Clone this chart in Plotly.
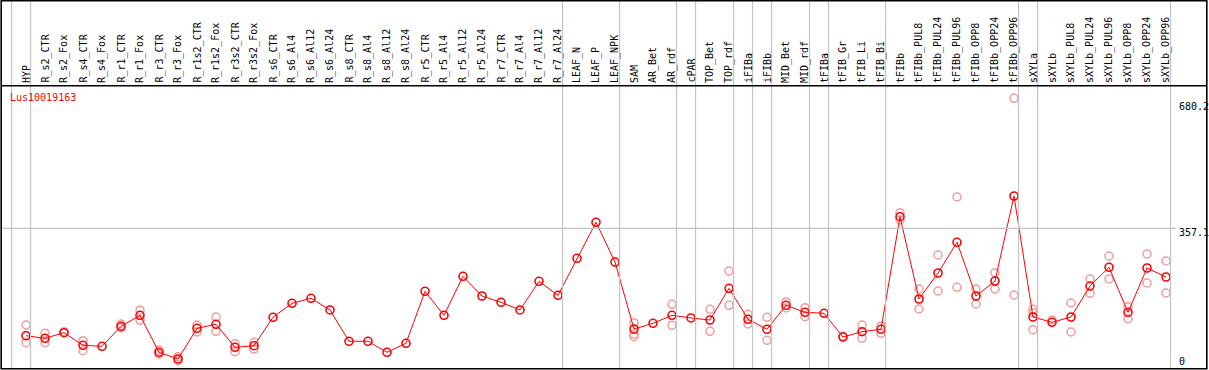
import plotly.graph_objects as go

categories = ["HYP", "R_s2_CTR", "R_s2_Fox", "R_s4_CTR", "R_s4_Fox", "R_r1_CTR", "R_r1_Fox",
              "R_r3_CTR", "R_r3_Fox", "R_r1s2_CTR", "R_r1s2_Fox", "R_r3s2_CTR", "R_r3s2_Fox",
              "R_s6_CTR", "R_s6_Al4", "R_s6_Al12", "R_s6_Al24", "R_s8_CTR", "R_s8_Al4", "R_s8_Al12",
              "R_s8_Al24", "R_r5_CTR", "R_r5_Al4", "R_r5_Al12", "R_r5_Al24", "R_r7_CTR", "R_r7_Al4",
              "R_r7_Al12", "R_r7_Al24", "LEAF_N", "LEAF_P", "LEAF_NPK", "SAM", "AR_Bet", "AR_rdf",
              "cPAR", "TOP_Bet", "TOP_rdf", "iFIBa", "iFIBb", "MID_Bet", "MID_rdf", "tFIBa",
              "tFIB_Gr", "tFIB_Li", "tFIB_Bi", "tFIBb", "tFIBb_PUL8", "tFIBb_PUL24", "tFIBb_PUL96",
              "tFIBb_OPP8", "tFIBb_OPP24", "tFIBb_OPP96", "sXYLa", "sXYLb", "sXYLb_PUL8",
              "sXYLb_PUL24", "sXYLb_PUL96", "sXYLb_OPP8", "sXYLb_OPP24", "sXYLb_OPP96"]

mean_values = [80.6, 73.9, 88.3, 55.9, 53.3, 104.8, 133.1, 37.8, 20.6, 99.6, 109.9, 50.7, 54.8,
               128.0, 164.0, 176.9, 146.8, 66.2, 66.2, 37.8, 61.0, 194.9, 133.1, 233.5, 182.8,
               166.6, 146.8, 220.6, 184.6, 279.9, 372.6, 270.3, 97.8, 112.5, 133.1, 126.2, 121.0,
               202.6, 122.8, 97.1, 158.9, 140.8, 138.3, 77.2, 90.9, 97.1, 387.0, 175.1, 242.0,
               321.1, 182.8, 221.4, 440.3, 128.7, 115.1, 128.7, 208.5, 256.7, 140.8, 254.9, 231.7]

N = None
rep_a = [108.1, 86.8, 90.9, 67.7, N, 110.7, 146.0, 43.8, 26.5, 108.1, 128.7, 60.0, 63.6,
         N, N, N, N, N, N, N, N, N, N, N, N, N, N, N, N, N, N, N,
         114.1, N, 161.4, N, 148.6, 247.2, 135.7, 128.0, 167.4, 152.7, N, 79.8, 108.1, 105.6,
         397.3, 200.8, 288.4, 437.7, 200.8, 242.8, 691.8, 148.6, 121.0, 164.8, 226.6, 285.8,
         155.3, 290.9, 272.9]
rep_b = [62.6, 62.6, N, 42.0, N, 101.2, 120.2, 33.5, 16.2, 90.1, 91.9, 39.4, 46.3,
         N, N, N, N, N, N, N, N, N, N, N, N, N, N, N, N, N, N, N,
         84.2, N, 107.4, N, 91.9, 158.9, 110.7, 68.7, 151.9, 129.5, N, N, 73.9, 86.8,
         378.5, 149.3, 195.7, 205.2, 162.2, 200.8, 185.4, 96.0, N, 90.1, 189.8, 226.6,
         123.6, 216.3, 190.5]
rep_c = [N, N, N, N, N, N, N, N, N, N, N, N, N,
         N, N, N, N, N, N, N, N, N, N, N, N, N, N, N, N, N, N, N,
         78.0, N, N, N, N, N, N, N, N, N, N, N, N, N,
         N, N, N, N, N, N, N, 139.8, N, N, N, N,
         N, N, N]

gene_label = "Lus10019163"
axis_labels = ["680.2", "357.1", "0"]
grid_value = 357.1
group_ends = [-1, 0, 28, 31, 34, 35, 37, 38, 39, 41, 42, 45, 52, 53, 60]

W, H = 1209, 370
X0PX, COLPX = 26.0, 19.0
ZEROPX, PXU = 367.0, 0.3884

def px_x(p):
    return p / W

def px_y(p):
    return 1 - p / H

xs = list(range(len(categories)))
fig = go.Figure()

rx, ry = [], []
for reps in (rep_a, rep_b, rep_c):
    for i, v in enumerate(reps):
        if v is not None:
            rx.append(i)
            ry.append(v)

fig.add_trace(go.Scatter(x=rx, y=ry, mode="markers",
                         marker=dict(symbol="circle-open", size=8, color="#f19c9c",
                                     line=dict(width=1.5, color="#f19c9c")),
                         hoverinfo="skip", showlegend=False))
fig.add_trace(go.Scatter(x=xs, y=mean_values, mode="lines+markers",
                         line=dict(color="#ff0000", width=1),
                         marker=dict(symbol="circle-open", size=8, color="#ff0000",
                                     line=dict(width=1.6, color="#ff0000")),
                         showlegend=False))

shapes = []
for g in group_ends:
    shapes.append(dict(type="line", xref="x", yref="paper", x0=g + 0.24, x1=g + 0.24,
                       y0=px_y(369), y1=1, line=dict(color="#c4c4c4", width=1.2)))
shapes.append(dict(type="line", xref="paper", yref="y", x0=px_x(1), x1=px_x(1176),
                   y0=grid_value, y1=grid_value, line=dict(color="#c4c4c4", width=1.2)))
shapes.append(dict(type="line", xref="paper", yref="paper", x0=px_x(1), x1=px_x(1207),
                   y0=px_y(85.7), y1=px_y(85.7), line=dict(color="#000000", width=1.5)))
shapes.append(dict(type="rect", xref="paper", yref="paper", x0=px_x(1.2), x1=px_x(1206.8),
                   y0=px_y(368.8), y1=px_y(0.8), line=dict(color="#000000", width=1.6)))

annotations = []
for i, c in enumerate(categories):
    annotations.append(dict(x=i, xref="x", y=px_y(84), yref="paper", text=c,
                            textangle=-90, showarrow=False, xanchor="center", yanchor="bottom",
                            font=dict(family="DejaVu Sans Mono", size=10, color="#000000"),
                            borderpad=0))
annotations.append(dict(x=px_x(8.5), xref="paper", y=px_y(97.5), yref="paper", text=gene_label,
                        showarrow=False, xanchor="left", yanchor="middle",
                        font=dict(family="DejaVu Sans Mono", size=10, color="#ff0000"),
                        borderpad=0))
label_px = [106.7, 232.0, 361.7]
for t, p in zip(axis_labels, label_px):
    annotations.append(dict(x=px_x(1177.5), xref="paper", y=px_y(p), yref="paper", text=t,
                            showarrow=False, xanchor="left", yanchor="middle",
                            font=dict(family="DejaVu Sans Mono", size=10, color="#000000"),
                            borderpad=0))

fig.update_layout(
    width=W, height=H, margin=dict(l=0, r=0, t=0, b=0),
    paper_bgcolor="white", plot_bgcolor="white",
    xaxis=dict(range=[-X0PX / COLPX, (W - X0PX) / COLPX], visible=False, fixedrange=True),
    yaxis=dict(range=[(ZEROPX - H) / PXU, ZEROPX / PXU], visible=False, fixedrange=True),
    shapes=shapes, annotations=annotations, showlegend=False,
)

fig.write_html("out.html", config={"displayModeBar": False},
               post_script="document.body.style.margin='0';document.body.style.padding='0';"
                           "document.body.style.overflow='hidden';")
